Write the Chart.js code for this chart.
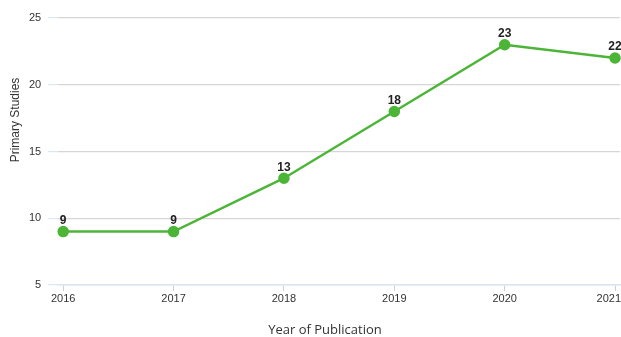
<!DOCTYPE html>
<html>
<head>
<meta charset="utf-8">
<script src="https://cdn.jsdelivr.net/npm/chart.js@4.4.0/dist/chart.umd.min.js"></script>
<style>
  html, body { margin: 0; padding: 0; background: #fff; }
  #wrap { width: 621px; height: 337px; }
</style>
</head>
<body>
<div id="wrap"><canvas id="c" width="621" height="337"></canvas></div>
<script>
const years = [2016, 2017, 2018, 2019, 2020, 2021];
const studies = [9, 9, 13, 18, 23, 22];
const yTicks = [5, 10, 15, 20, 25];
const xTitle = 'Year of Publication';
const yTitle = 'Primary Studies';

const lineColor = '#4cb537';

// Writes each point's value just above its marker
const valueLabels = {
  id: 'valueLabels',
  afterDatasetsDraw(chart) {
    const ctx = chart.ctx;
    const meta = chart.getDatasetMeta(0);
    ctx.save();
    ctx.font = 'bold 12px "Liberation Sans", Arial, sans-serif';
    ctx.fillStyle = '#222';
    ctx.textAlign = 'center';
    ctx.textBaseline = 'bottom';
    meta.data.forEach((pt, i) => {
      ctx.fillText(String(studies[i]), pt.x, pt.y - 5);
    });
    ctx.restore();
  }
};

// Year labels under the x axis (kept inside the canvas) and the axis titles
const axisText = {
  id: 'axisText',
  afterDraw(chart) {
    const ctx = chart.ctx;
    const xs = chart.scales.x;
    ctx.save();
    ctx.fillStyle = '#333';
    ctx.font = '11px "Liberation Sans", Arial, sans-serif';
    ctx.textAlign = 'center';
    ctx.textBaseline = 'top';
    years.forEach(yr => {
      const txt = String(yr);
      const w = ctx.measureText(txt).width;
      let cx = xs.getPixelForValue(yr);
      cx = Math.min(cx, chart.width - w / 2);
      ctx.fillText(txt, cx, xs.top + 8);
    });

    ctx.textBaseline = 'middle';
    ctx.font = '13px "Open Sans", "DejaVu Sans", sans-serif';
    ctx.fillText(xTitle, 325, 330);
    ctx.translate(16, 120);
    ctx.rotate(-Math.PI / 2);
    ctx.font = '12px "Liberation Sans", Arial, sans-serif';
    ctx.fillText(yTitle, 0, 0);
    ctx.restore();
  }
};

new Chart(document.getElementById('c'), {
  type: 'line',
  data: {
    datasets: [{
      data: years.map((y, i) => ({ x: y, y: studies[i] })),
      borderColor: lineColor,
      backgroundColor: lineColor,
      borderWidth: 2.5,
      pointRadius: 4.5,
      pointHoverRadius: 4.5,
      tension: 0,
      clip: false
    }]
  },
  options: {
    responsive: false,
    animation: false,
    layout: { autoPadding: false, padding: { top: 18, right: 1, left: 22, bottom: 46 } },
    plugins: { legend: { display: false }, tooltip: { enabled: false } },
    scales: {
      x: {
        type: 'linear',
        min: 2015.955,
        max: 2021.045,
        afterBuildTicks(scale) { scale.ticks = years.map(v => ({ value: v })); },
        ticks: { display: false },
        grid: {
          drawOnChartArea: false,
          tickLength: 6,
          color: '#d0d0d0',
          tickColor: '#d0d0d0'
        },
        border: { display: true, color: '#dbe6f2', width: 1.5 }
      },
      y: {
        min: 5,
        max: 25,
        afterBuildTicks(scale) { scale.ticks = yTicks.map(v => ({ value: v })); },
        ticks: {
          color: '#333',
          font: { family: '"Liberation Sans", Arial, sans-serif', size: 11 },
          padding: 7
        },
        grid: {
          color: '#d6d6d6',
          lineWidth: 1.2,
          tickLength: 10,
          tickColor: '#dbe6f2'
        },
        border: { display: false }
      }
    }
  },
  plugins: [valueLabels, axisText]
});
</script>
</body>
</html>
